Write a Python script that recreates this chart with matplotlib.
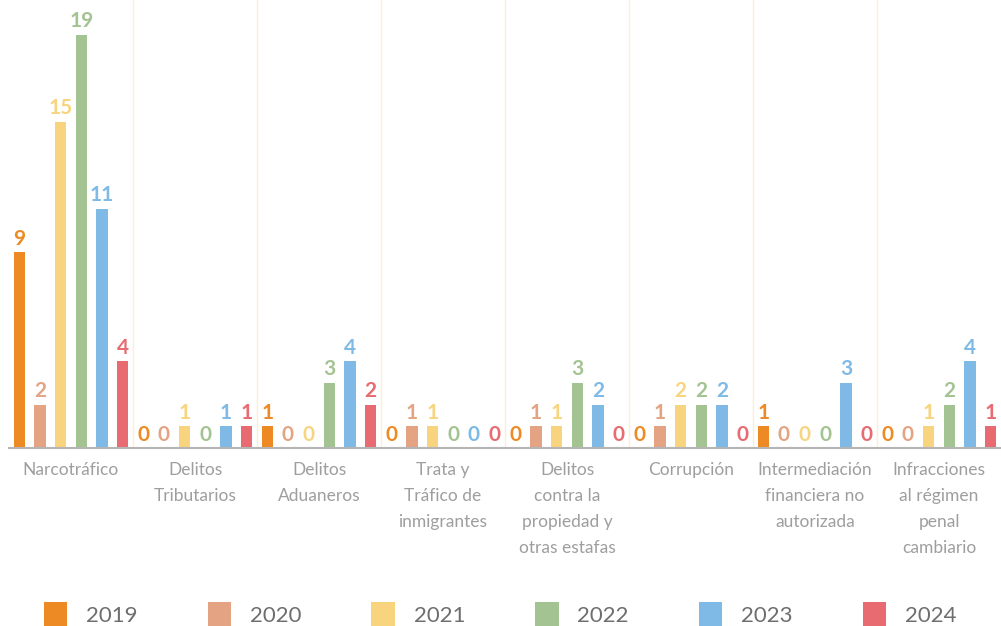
import matplotlib.pyplot as plt
from matplotlib.patches import Patch
import numpy as np

# datos
categorias = ["Narcotráfico", "Delitos\nTributarios", "Delitos\nAduaneros",
              "Trata y\nTráfico de\ninmigrantes", "Delitos\ncontra la\npropiedad y\notras estafas",
              "Corrupción", "Intermediación\nfinanciera no\nautorizada",
              "Infracciones\nal régimen\npenal\ncambiario"]
anios = ["2019", "2020", "2021", "2022", "2023", "2024"]
v2019 = [9, 0, 1, 0, 0, 0, 1, 0]
v2020 = [2, 0, 0, 1, 1, 1, 0, 0]
v2021 = [15, 1, 0, 1, 1, 2, 0, 1]
v2022 = [19, 0, 3, 0, 3, 2, 0, 2]
v2023 = [11, 1, 4, 0, 2, 2, 3, 4]
v2024 = [4, 1, 2, 0, 0, 0, 0, 1]
series = [v2019, v2020, v2021, v2022, v2023, v2024]
colores = ["#ee8a23", "#e4a383", "#f9d47e", "#a3c492", "#7fbae6", "#e86b72"]

plt.rcParams["font.family"] = ["Lato", "DejaVu Sans"]

fig = plt.figure(figsize=(10.01, 6.26), dpi=100)
ax = fig.add_axes([9 / 1001, 178 / 626, 992 / 1001, 448 / 626])

x = np.arange(len(categorias))
ancho = 0.089
for j, (vals, col) in enumerate(zip(series, colores)):
    pos = x + (j - 2.5) / 6
    ax.bar(pos, vals, width=ancho, color=col, zorder=2)
    for p, v in zip(pos, vals):
        ax.annotate(str(v), (p, v), xytext=(0, 2.5), textcoords="offset points",
                    ha="center", va="bottom", color=col, fontsize=15,
                    fontweight="bold", zorder=3)

# separadores entre grupos
for s in x[:-1] + 0.5:
    ax.axvline(s, color="#fcefd9", lw=1, zorder=1)

ax.set_xlim(-0.5, len(categorias) - 0.5)
ax.set_ylim(0, 20.6)
ax.set_xticks(x)
ax.set_xticklabels(categorias, color="#9e9e9e", fontsize=12.5, linespacing=1.78)
ax.tick_params(axis="x", length=0, pad=10)
ax.set_yticks([])
for s in ["top", "right", "left"]:
    ax.spines[s].set_visible(False)
ax.spines["bottom"].set_color("#b5b5b5")
ax.spines["bottom"].set_linewidth(1.5)

handles = [Patch(facecolor=c, label=a) for a, c in zip(anios, colores)]
fig.legend(handles=handles, ncol=6, loc="center left", bbox_to_anchor=(24 / 1001, 11 / 626),
           frameon=False, fontsize=16, labelcolor="#6e6e6e", handlelength=1.05,
           handleheight=1.4, handletextpad=0.85, columnspacing=3.15)

fig.savefig("out.png", dpi=100)
